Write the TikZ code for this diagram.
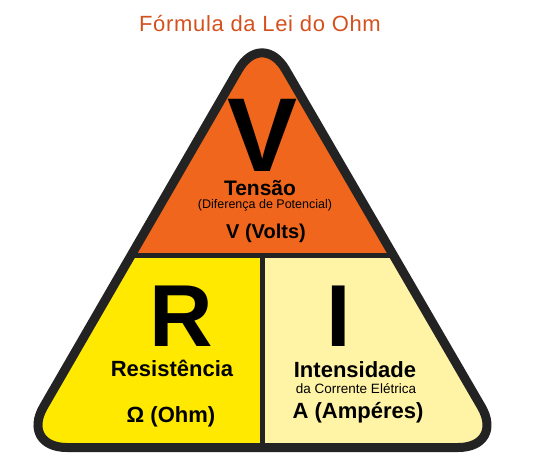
\documentclass[tikz,border=0pt]{standalone}
\usepackage{fontspec}
\setmainfont{Liberation Sans}
\newfontfamily\titlefont{Liberation Sans}[LetterSpace=3]
\usepackage{xcolor}
\definecolor{ohmorange}{HTML}{F0661C}
\definecolor{ohmyellow}{HTML}{FFE900}
\definecolor{ohmpale}{HTML}{FFF4A6}
\definecolor{ohmedge}{HTML}{232323}
\definecolor{ohmtitle}{HTML}{D4511E}
\usepackage{tikz}
\usetikzlibrary{positioning,calc}

\newcommand{\fsz}[1]{\fontsize{#1}{#1}\selectfont}

\begin{document}
\begin{tikzpicture}[
      x=1pt, y=-1pt,
      every node/.style={inner sep=0pt, anchor=base},
      edge/.style={draw=ohmedge, line width=9pt, rounded corners=47pt, line join=round},
      divider/.style={draw=ohmedge, line width=5pt},
      letter/.style={font=\bfseries\fsz{#1}},
      caption/.style={font=\bfseries\fsz{22}},
      small/.style={font=\fsz{#1}},
    ]
    \useasboundingbox (0,0) rectangle (534,467);

    % corners of the triangle (centre of the black border)
    \coordinate (apex) at (262,29);
    \coordinate (bl) at (20,447.5);
    \coordinate (br) at (505,447.5);

    % coloured parts
    \begin{scope}
      \clip[rounded corners=47pt] (apex) -- (bl) -- (br) -- cycle;
      \fill[ohmorange] (0,0) rectangle (534,255);
      \fill[ohmyellow] (0,255) rectangle (262,467);
      \fill[ohmpale] (262,255) rectangle (534,467);
      \draw[divider] (0,255) -- (534,255);
      \draw[divider] (262,255) -- (262,467);
    \end{scope}
    \draw[edge] (apex) -- (bl) -- (br) -- cycle;

    % title
    \node[font=\titlefont\fsz{22}, text=ohmtitle] (title) at (260,31) {Fórmula da Lei do Ohm};

    % tension
    \node[letter=105] (V) at (263,171) {V};
    \node[letter=21] (tensao) at (260,195) {Tensão};
    \node[small=12.5] (ddp) at (265,208.5) {(Diferença de Potencial)};
    \node[font=\bfseries\fsz{20}] (volts) at (266,238) {V (Volts)};

    % resistance
    \node[letter=88] (R) at (181,346) {R};
    \node[caption] (resist) at (172,376) {Resistência};
    \node[caption] (ohm) at (171,422) {Ω (Ohm)};

    % current
    \node[letter=88] (I) at (339,346) {I};
    \node[caption] (intens) at (355,377) {Intensidade};
    \node[small=13.5] (corrente) at (356,393) {da Corrente Elétrica};
    \node[caption] (amp) at (358,418) {A (Ampéres)};
  \end{tikzpicture}
\end{document}
